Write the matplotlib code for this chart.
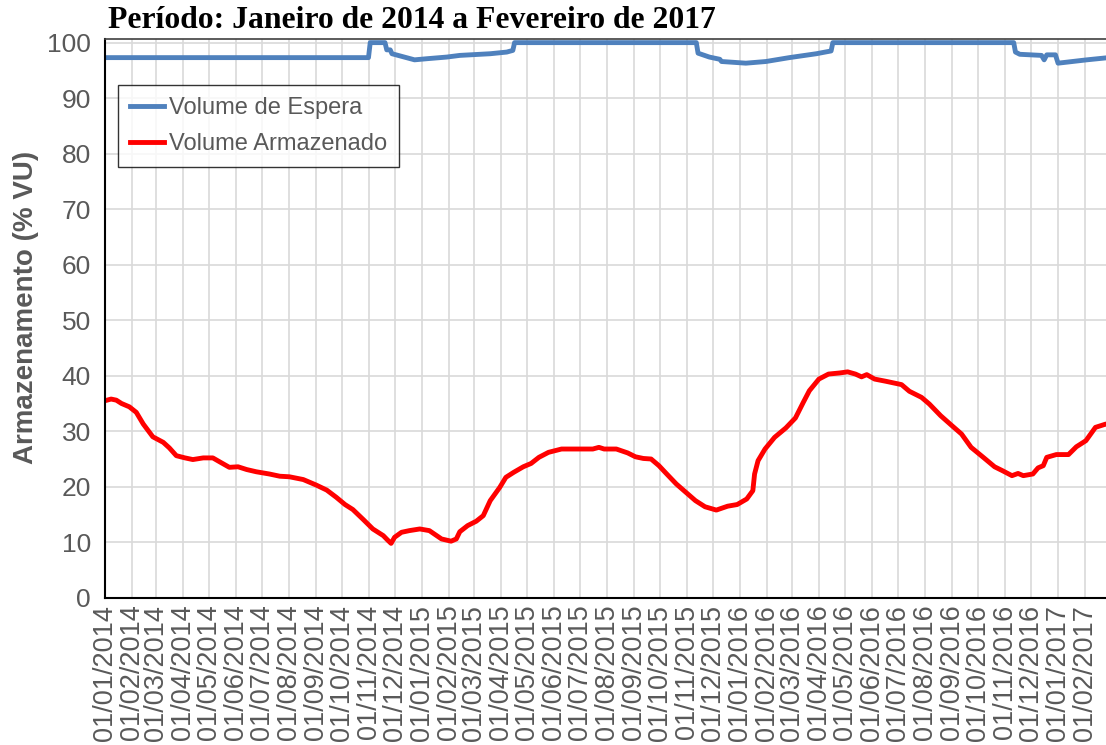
import numpy as np
import pandas as pd
import matplotlib
matplotlib.use("Agg")
import matplotlib.pyplot as plt
import matplotlib.dates as mdates

# Volume de Espera (% VU)
espera_dates = ["2014-01-01", "2014-10-31", "2014-11-02", "2014-11-19", "2014-11-21",
                "2014-11-25", "2014-11-27", "2014-12-23", "2015-01-06", "2015-01-29",
                "2015-02-13", "2015-03-20", "2015-04-08", "2015-04-15", "2015-04-17",
                "2015-11-12", "2015-11-14", "2015-11-27", "2015-12-09", "2015-12-11",
                "2016-01-08", "2016-01-31", "2016-02-27", "2016-03-29", "2016-04-15",
                "2016-04-17", "2016-11-11", "2016-11-13", "2016-11-18", "2016-12-13",
                "2016-12-16", "2016-12-19", "2016-12-29", "2017-01-01", "2017-02-03",
                "2017-02-28"]
espera_vals = [97.3, 97.3, 100, 100, 98.7,
               98.7, 98.0, 96.9, 97.1, 97.4,
               97.7, 98.0, 98.3, 98.6, 100,
               100, 98.1, 97.4, 97.0, 96.6,
               96.3, 96.6, 97.3, 98.0, 98.5,
               100, 100, 98.3, 97.9, 97.7,
               96.9, 97.8, 97.8, 96.3, 96.9,
               97.3]

# Volume Armazenado (% VU)
armaz_dates = ["2014-01-01", "2014-01-08", "2014-01-14", "2014-01-20", "2014-01-29",
               "2014-02-06", "2014-02-14", "2014-02-25", "2014-03-09", "2014-03-16",
               "2014-03-24", "2014-04-03", "2014-04-12", "2014-04-24", "2014-05-05",
               "2014-05-15", "2014-05-24", "2014-06-03", "2014-06-13", "2014-06-24",
               "2014-07-09", "2014-07-21", "2014-08-01", "2014-08-17", "2014-09-01",
               "2014-09-13", "2014-09-24", "2014-10-04", "2014-10-13", "2014-10-25",
               "2014-11-05", "2014-11-17", "2014-11-22", "2014-11-26", "2014-11-30",
               "2014-12-08", "2014-12-17", "2014-12-29", "2015-01-09", "2015-01-23",
               "2015-02-03", "2015-02-09", "2015-02-13", "2015-02-22", "2015-03-04",
               "2015-03-12", "2015-03-20", "2015-03-31", "2015-04-07", "2015-04-16",
               "2015-04-27", "2015-05-06", "2015-05-15", "2015-05-26", "2015-06-10",
               "2015-06-28", "2015-07-16", "2015-07-23", "2015-07-29", "2015-08-12",
               "2015-08-25", "2015-09-03", "2015-09-12", "2015-09-21", "2015-09-30",
               "2015-10-09", "2015-10-20", "2015-10-31", "2015-11-11", "2015-11-22",
               "2015-12-05", "2015-12-18", "2015-12-29", "2016-01-09", "2016-01-16",
               "2016-01-18", "2016-01-22", "2016-01-30", "2016-02-10", "2016-02-23",
               "2016-03-05", "2016-03-14", "2016-03-21", "2016-04-01", "2016-04-12",
               "2016-04-25", "2016-05-04", "2016-05-13", "2016-05-20", "2016-05-26",
               "2016-06-04", "2016-06-17", "2016-07-05", "2016-07-14", "2016-07-28",
               "2016-08-06", "2016-08-19", "2016-09-01", "2016-09-12", "2016-09-23",
               "2016-10-07", "2016-10-20", "2016-10-29", "2016-11-09", "2016-11-16",
               "2016-11-22", "2016-12-03", "2016-12-09", "2016-12-15", "2016-12-19",
               "2016-12-30", "2017-01-13", "2017-01-22", "2017-02-02", "2017-02-13",
               "2017-02-25", "2017-02-28"]
armaz_vals = [35.5, 35.8, 35.6, 35.0, 34.4,
              33.4, 31.3, 29.0, 28.0, 27.0,
              25.6, 25.2, 24.9, 25.2, 25.2,
              24.3, 23.5, 23.6, 23.1, 22.7,
              22.3, 21.9, 21.8, 21.3, 20.3,
              19.4, 18.1, 16.8, 15.9, 14.1,
              12.4, 11.2, 10.4, 9.8, 10.9,
              11.8, 12.1, 12.4, 12.1, 10.6,
              10.2, 10.6, 11.9, 13.0, 13.8,
              14.8, 17.5, 19.9, 21.7, 22.6,
              23.6, 24.2, 25.3, 26.2, 26.8,
              26.8, 26.8, 27.1, 26.8, 26.8,
              26.1, 25.4, 25.1, 25.0, 23.8,
              22.3, 20.5, 19.0, 17.5, 16.4,
              15.8, 16.5, 16.8, 17.8, 19.3,
              22.3, 24.7, 26.8, 28.9, 30.6,
              32.4, 35.2, 37.3, 39.4, 40.3,
              40.5, 40.7, 40.3, 39.8, 40.2,
              39.4, 39.0, 38.4, 37.2, 36.1,
              34.9, 32.8, 31.0, 29.5, 27.1,
              25.3, 23.6, 22.9, 22.0, 22.4,
              22.0, 22.3, 23.4, 23.8, 25.3,
              25.8, 25.8, 27.2, 28.3, 30.7,
              31.3, 31.2]

title = "Período: Janeiro de 2014 a Fevereiro de 2017"
ylabel = "Armazenamento (% VU)"
gray = "#595959"

fig = plt.figure(figsize=(11.06, 7.45), dpi=100)
ax = fig.add_axes([105 / 1106, (745 - 597.8) / 745, (1108.5 - 105) / 1106, (597.8 - 39.3) / 745])

ax.plot(pd.to_datetime(espera_dates), espera_vals, color="#4F81BD", lw=3.5,
        label="Volume de Espera", solid_joinstyle="round")
ax.plot(pd.to_datetime(armaz_dates), armaz_vals, color="#FF0000", lw=3.5,
        label="Volume Armazenado", solid_joinstyle="round")

ax.set_xlim(pd.Timestamp("2014-01-01"), pd.Timestamp("2017-02-28"))
ax.set_ylim(0, 100.6)
ax.set_yticks(np.arange(0, 101, 10))
ax.xaxis.set_major_locator(mdates.MonthLocator(bymonthday=1))
ax.xaxis.set_major_formatter(mdates.DateFormatter("%d/%m/%Y"))

ax.grid(True, color="#D9D9D9", lw=1.2)
ax.set_axisbelow(True)
ax.tick_params(axis="both", length=0, colors=gray, labelsize=19, pad=10)
ax.tick_params(axis="x", labelrotation=90, labelsize=19.5, pad=5)
for lbl in ax.get_xticklabels() + ax.get_yticklabels():
    lbl.set_family("Liberation Sans")

ax.spines["left"].set_color("black")
ax.spines["bottom"].set_color("black")
ax.spines["left"].set_linewidth(1.5)
ax.spines["bottom"].set_linewidth(1.5)
ax.spines["top"].set_color("#404040")
ax.spines["top"].set_linewidth(1.2)
ax.spines["right"].set_visible(False)

ax.set_ylabel(ylabel, fontsize=20, fontweight="bold", color=gray,
              family="Liberation Sans")
ax.yaxis.set_label_coords(-0.066, 0.52)

fig.text(108 / 1106, 1 - 21 / 745, title, fontsize=22.8, fontweight="bold",
         family="Liberation Serif", ha="left", va="center")

leg = ax.legend(loc="upper left", bbox_to_anchor=(13 / 1003.5, 1 - 46 / 558.5),
                prop={"family": "Liberation Sans", "size": 17}, frameon=True,
                fancybox=False, edgecolor="black", handlelength=1.45,
                borderpad=0.5, labelspacing=0.6, handletextpad=0.2,
                borderaxespad=0)
leg.get_frame().set_linewidth(1.0)
for t in leg.get_texts():
    t.set_color(gray)

fig.savefig("out.png", dpi=100)
